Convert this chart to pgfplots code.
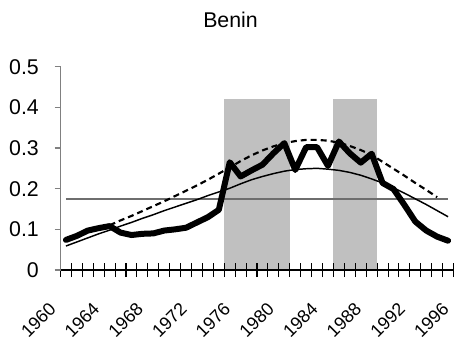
\documentclass[border=0pt]{standalone}
\usepackage{pgfplots}
\pgfplotsset{compat=1.18}
\usepackage{fontspec}
\setmainfont{Liberation Sans}
\definecolor{shade}{RGB}{192,192,192}
\definecolor{meanline}{RGB}{110,110,110}
\definecolor{axisgray}{RGB}{128,128,128}
\begin{document}
\begin{tikzpicture}
\useasboundingbox (-45.4pt,-50.25pt) rectangle (299.6pt,202.5pt);
\begin{axis}[
  at={(0,0)}, anchor=south west,
  scale only axis,
  width=294.75pt, height=152.5pt,
  xmin=1960, xmax=1996, ymin=0, ymax=0.5,
  axis on top,
  axis x line*=bottom, axis y line*=left,
  x axis line style={black, line width=0.8pt},
  y axis line style={axisgray, line width=0.8pt},
  ytick={0,0.1,0.2,0.3,0.4,0.5},
  tick align=outside,
  major tick length=4.5pt,
  minor tick length=10.5pt,
  ytick style={axisgray, line width=0.8pt},
  xtick={1960,1964,1968,1972,1976,1980,1984,1988,1992,1996},
  xticklabels={1960,1964,1968,1972,1976,1980,1984,1988,1992,1996},
  major x tick style={draw=none},
  minor xtick={1960,1961,...,1996},
  minor x tick style={black, line width=0.8pt, yshift=5.25pt},
  /pgf/number format/assume math mode=true,
  yticklabel style={font=\fontsize{16}{19}\selectfont, anchor=east, inner sep=0pt, xshift=-11.6pt},
  xticklabel style={font=\fontsize{13.5}{16}\selectfont, rotate=45, anchor=base east, inner sep=0pt, xshift=-19.87pt, yshift=-16.19pt},
  clip=false,
]
\addplot[fill=shade, draw=none] coordinates {(1975,0) (1975,0.42) (1981,0.42) (1981,0)} -- cycle;
\addplot[fill=shade, draw=none] coordinates {(1985,0) (1985,0.42) (1989,0.42) (1989,0)} -- cycle;
\addplot[meanline, line width=1pt] coordinates {(1960.5,0.175) (1995.5,0.175)};
\addplot[black, line width=1.6pt, dash pattern=on 4.5pt off 3pt] coordinates {
(1964.5,0.110) (1965.5,0.122) (1966.5,0.133) (1967.5,0.145) (1968.5,0.157)
(1969.5,0.169) (1970.5,0.182) (1971.5,0.195) (1972.5,0.208) (1973.5,0.222)
(1974.5,0.237) (1975.5,0.252) (1976.5,0.268) (1977.5,0.282) (1978.5,0.294)
(1979.5,0.304) (1980.5,0.312) (1981.5,0.317) (1982.5,0.320) (1983.5,0.320)
(1984.5,0.318) (1985.5,0.313) (1986.5,0.305) (1987.5,0.295) (1988.5,0.283)
(1989.5,0.266) (1990.5,0.249) (1991.5,0.232) (1992.5,0.214) (1993.5,0.197)
(1994.5,0.179)};
\addplot[black, line width=1.1pt] coordinates {
(1960.5,0.059) (1961.5,0.069) (1962.5,0.079) (1963.5,0.089) (1964.5,0.098)
(1965.5,0.108) (1966.5,0.117) (1967.5,0.127) (1968.5,0.136) (1969.5,0.146)
(1970.5,0.155) (1971.5,0.164) (1972.5,0.173) (1973.5,0.183) (1974.5,0.192)
(1975.5,0.201) (1976.5,0.212) (1977.5,0.222) (1978.5,0.230) (1979.5,0.237)
(1980.5,0.243) (1981.5,0.247) (1982.5,0.249) (1983.5,0.250) (1984.5,0.248)
(1985.5,0.245) (1986.5,0.240) (1987.5,0.233) (1988.5,0.224) (1989.5,0.214)
(1990.5,0.202) (1991.5,0.189) (1992.5,0.175) (1993.5,0.161) (1994.5,0.146)
(1995.5,0.131)};
\addplot[black, line width=4.5pt, line join=round, line cap=round] coordinates {
(1960.5,0.074) (1961.5,0.084) (1962.5,0.097) (1963.5,0.103) (1964.5,0.108)
(1965.5,0.092) (1966.5,0.086) (1967.5,0.089) (1968.5,0.090) (1969.5,0.097)
(1970.5,0.100) (1971.5,0.104) (1972.5,0.117) (1973.5,0.130) (1974.5,0.148)
(1975.5,0.265) (1976.5,0.230) (1977.5,0.245) (1978.5,0.259) (1979.5,0.287)
(1980.5,0.312) (1981.5,0.246) (1982.5,0.302) (1983.5,0.302) (1984.5,0.256)
(1985.5,0.316) (1986.5,0.287) (1987.5,0.264) (1988.5,0.286) (1989.5,0.214)
(1990.5,0.199) (1991.5,0.160) (1992.5,0.119) (1993.5,0.097) (1994.5,0.082)
(1995.5,0.072)};
\end{axis}
\node[anchor=base, inner sep=0pt, font=\fontsize{16}{19}\selectfont] at (127.5pt,181.7pt) {Benin};
\end{tikzpicture}
\end{document}
